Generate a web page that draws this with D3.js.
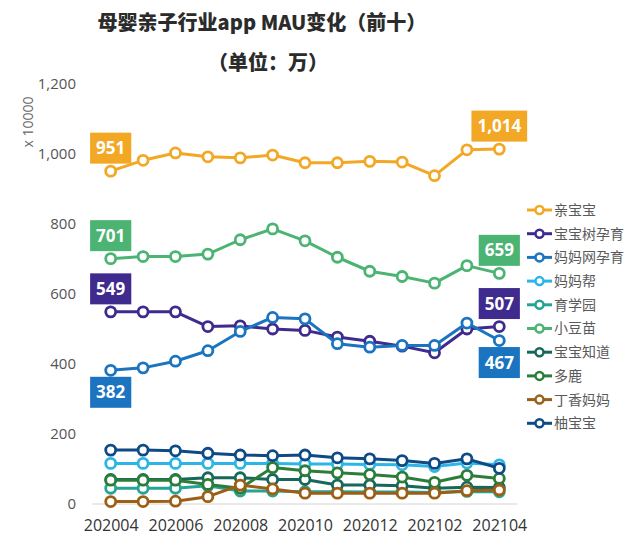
<!DOCTYPE html>
<html><head><meta charset="utf-8">
<script src="https://cdn.jsdelivr.net/npm/d3@7"></script>
<style>
body{margin:0;background:#fff;}
text{font-family:"Open Sans","Noto Sans CJK SC",sans-serif;}
</style></head>
<body><svg id="c" width="640" height="553"></svg>
<script>
const months = ["202004","202005","202006","202007","202008","202009","202010","202011","202012","202101","202102","202103","202104"];
const tickMonths = ["202004","202006","202008","202010","202012","202102","202104"];
const yTicks = [0,200,400,600,800,1000,1200];
const seriesNames = ["亲宝宝","宝宝树孕育","妈妈网孕育","妈妈帮","育学园","小豆苗","宝宝知道","多鹿","丁香妈妈","柚宝宝"];
const seriesColors = ["#f2a825","#3f2b8e","#1a74c0","#2cb5e6","#25a496","#4cb472","#17675a","#2d7d3a","#9c5f16","#0e4a85"];
const qinbaobao   = [951,982,1003,992,989,997,975,975,979,977,938,1012,1014];
const babytree    = [549,549,549,507,509,500,496,477,465,451,432,500,507];
const mamawang    = [382,389,408,438,493,533,529,458,448,453,453,517,467];
const mamabang    = [116,116,116,116,116,116,114,114,113,112,107,117,112];
const yuxueyuan   = [45,45,45,52,37,37,35,35,34,34,33,36,35];
const xiaodoumiao = [701,707,707,714,755,786,752,705,665,650,631,681,659];
const baobaozhidao= [70,70,70,75,75,70,70,54,54,52,45,48,47];
const duolu       = [68,68,68,56,45,104,95,89,84,77,62,82,73];
const dingxiang   = [7,7,8,21,54,43,31,31,31,31,31,38,40];
const youbaobao   = [154,154,152,145,140,138,140,132,129,124,116,129,102];
const seriesValues = [qinbaobao,babytree,mamawang,mamabang,yuxueyuan,xiaodoumiao,baobaozhidao,duolu,dingxiang,youbaobao];
// which series get end labels and where (above / below)
const labeled = {"亲宝宝":"above","小豆苗":"above","宝宝树孕育":"above","妈妈网孕育":"below"};

const svg = d3.select("#c");
const x = d3.scalePoint().domain(months).range([110.7,499.3]);
const y = d3.scaleLinear().domain([0,1200]).range([504,84]);

// title
svg.append("text").attr("x",262).attr("y",30).attr("text-anchor","middle")
  .style("font-family","'Noto Sans CJK SC',sans-serif").style("font-weight","900").style("font-size","20px").attr("fill","#2b2b2b")
  .text("母婴亲子行业app MAU变化（前十）");
svg.append("text").attr("x",268).attr("y",70).attr("text-anchor","middle")
  .style("font-family","'Noto Sans CJK SC',sans-serif").style("font-weight","900").style("font-size","20px").attr("fill","#2b2b2b")
  .text("（单位：万）");

// baseline
svg.append("line").attr("x1",92).attr("x2",517).attr("y1",y(0)).attr("y2",y(0)).attr("stroke","#e3e3e3").attr("stroke-width",1.5);

// y axis
const yAxis = d3.axisLeft(y).tickValues(yTicks).tickFormat(d3.format(",")).tickSize(0).tickPadding(0);
const ya = svg.append("g").attr("transform","translate(76,0)").call(yAxis);
ya.select(".domain").remove();
ya.selectAll("text").attr("fill","#555").style("font-size","15px");
svg.append("text").attr("transform","translate(33,122) rotate(-90)").attr("text-anchor","middle")
  .attr("fill","#666").style("font-size","14px").text("x 10000");

// x axis
const xAxis = d3.axisBottom(x).tickValues(tickMonths).tickSize(0).tickPadding(0);
const xa = svg.append("g").attr("transform","translate(0,520)").call(xAxis);
xa.select(".domain").remove();
xa.selectAll("text").attr("fill","#333").style("font-size","16px");

// lines
const line = d3.line().x((d,i)=>x(months[i])).y(d=>y(d));
seriesNames.forEach((name,si)=>{
  const vals = seriesValues[si], col = seriesColors[si];
  const g = svg.append("g");
  g.append("path").datum(vals).attr("d",line).attr("fill","none").attr("stroke",col).attr("stroke-width",3).attr("stroke-linejoin","round");
  g.selectAll("circle").data(vals).join("circle")
    .attr("cx",(d,i)=>x(months[i])).attr("cy",d=>y(d)).attr("r",5)
    .attr("fill","#fff").attr("stroke",col).attr("stroke-width",2.8);
});

// data labels
seriesNames.forEach((name,si)=>{
  const pos = labeled[name]; if(!pos) return;
  const vals = seriesValues[si], col = seriesColors[si];
  [0, vals.length-1].forEach(i=>{
    const cx = x(months[i]), cy = y(vals[i]) + (pos==="above" ? -23 : 22);
    const txt = d3.format(",")(vals[i]);
    const g = svg.append("g");
    const t = g.append("text").attr("x",cx).attr("y",cy).attr("dy","0.35em").attr("text-anchor","middle")
      .attr("fill","#fff").style("font-weight","bold").style("font-size","17px").text(txt);
    const w = t.node().getComputedTextLength() + 12;
    g.insert("rect","text").attr("x",cx-w/2).attr("y",cy-15.5).attr("width",w).attr("height",31).attr("fill",col);
  });
});

// legend
const lg = svg.append("g").attr("transform","translate(527,210)");
seriesNames.forEach((name,i)=>{
  const g = lg.append("g").attr("transform",`translate(0,${i*23.7})`);
  g.append("line").attr("x1",0).attr("x2",25).attr("stroke",seriesColors[i]).attr("stroke-width",3);
  g.append("circle").attr("cx",12.5).attr("r",4).attr("fill","#fff").attr("stroke",seriesColors[i]).attr("stroke-width",2.5);
  g.append("text").attr("x",27).attr("dy","0.35em").attr("fill","#5a5a5a").style("font-size","14px")
    .style("font-family","'Noto Sans CJK SC',sans-serif").text(name);
});
</script></body></html>
